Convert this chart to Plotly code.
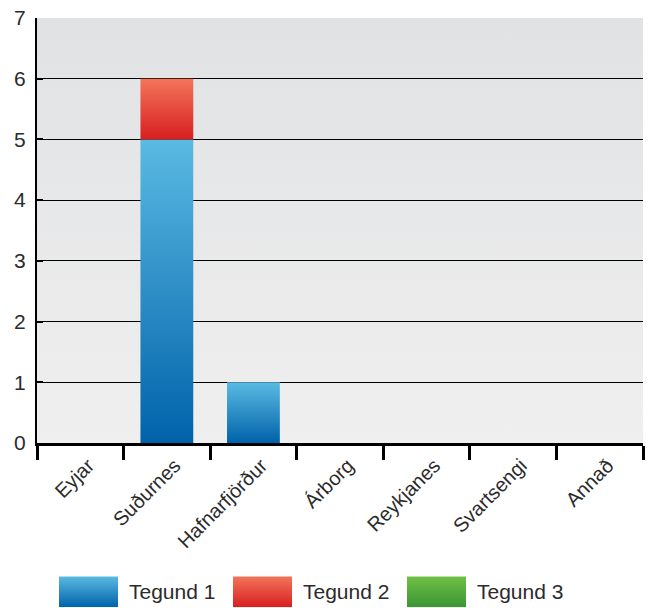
import base64
import plotly.graph_objects as go

categories = ["Eyjar", "Suðurnes", "Hafnarfjörður", "Árborg", "Reykjanes", "Svartsengi", "Annað"]
series_names = ["Tegund 1", "Tegund 2", "Tegund 3"]
tegund1 = [0, 5, 1, 0, 0, 0, 0]
tegund2 = [0, 1, 0, 0, 0, 0, 0]
tegund3 = [0, 0, 0, 0, 0, 0, 0]
y_ticks = [0, 1, 2, 3, 4, 5, 6, 7]

series_values = [tegund1, tegund2, tegund3]
# (top colour, bottom colour) per series
series_colors = [("#5bbae2", "#0062aa"), ("#f3755a", "#d71f1f"), ("#71c046", "#3a9535")]

FONT = "Liberation Sans, Arial, sans-serif"
TXT = "#2b2b2b"
BAR_W = 0.61


def grad_uri(top, bottom):
    svg = (
        '<svg xmlns="http://www.w3.org/2000/svg" width="10" height="100" preserveAspectRatio="none">'
        '<defs><linearGradient id="g" x1="0" y1="0" x2="0" y2="1">'
        f'<stop offset="0" stop-color="{top}"/><stop offset="1" stop-color="{bottom}"/>'
        '</linearGradient></defs><rect width="10" height="100" fill="url(#g)"/></svg>'
    )
    return "data:image/svg+xml;base64," + base64.b64encode(svg.encode()).decode()


fig = go.Figure()

base = [0] * len(categories)
for name, vals, (ctop, cbot) in zip(series_names, series_values, series_colors):
    for i, v in enumerate(vals):
        if v > 0:
            x0, x1 = i - BAR_W / 2, i + BAR_W / 2
            y0, y1 = base[i], base[i] + v
            fig.add_trace(go.Scatter(
                x=[x0, x1, x1, x0, x0], y=[y0, y0, y1, y1, y0],
                mode="lines", line=dict(width=0), fill="toself",
                fillgradient=dict(type="vertical", colorscale=[[0, cbot], [1, ctop]]),
                name=name, showlegend=False, hoverinfo="name+text",
                text=f"{categories[i]}: {v}",
            ))
    base = [b + v for b, v in zip(base, vals)]

fig.update_layout(
    width=649, height=608,
    margin=dict(l=37, r=6, t=16, b=165),
    paper_bgcolor="white", plot_bgcolor="#e8e9ea",
    showlegend=False,
    font=dict(family=FONT, color=TXT),
    xaxis=dict(
        range=[-0.5, len(categories) - 0.5], tickmode="array",
        tickvals=list(range(len(categories))), ticktext=categories,
        ticks="", tickangle=-45, tickfont=dict(size=20, color=TXT),
        ticklabelshift=8,
        showgrid=False, zeroline=False,
        showline=True, linecolor="black", linewidth=3,
        minor=dict(tickvals=[i - 0.5 for i in range(len(categories) + 1)],
                   ticks="outside", ticklen=14, tickwidth=3, tickcolor="black", showgrid=False),
        fixedrange=True,
    ),
    yaxis=dict(
        range=[0, 7], tickmode="array", tickvals=y_ticks,
        ticks="inside", ticklen=6, tickwidth=2, tickcolor="black",
        tickfont=dict(size=21, color=TXT), ticklabelstandoff=5,
        showgrid=True, gridcolor="black", gridwidth=1,
        zeroline=False, showline=True, linecolor="black", linewidth=2,
        fixedrange=True,
    ),
)

# plot background gradient
fig.add_layout_image(dict(
    source=grad_uri("#e1e2e4", "#efefef"), xref="x domain", yref="y domain",
    x=0, y=1, sizex=1, sizey=1, xanchor="left", yanchor="top",
    sizing="stretch", layer="below",
))

# legend: gradient swatches and labels
pw, ph = 649 - 37 - 6, 608 - 16 - 165
for k, (name, (ctop, cbot)) in enumerate(zip(series_names, series_colors)):
    sx = 59 + k * 174
    fig.add_layout_image(dict(
        source=grad_uri(ctop, cbot), xref="paper", yref="paper",
        x=(sx - 37) / pw, y=(443 - 577) / ph, sizex=59 / pw, sizey=31 / ph,
        xanchor="left", yanchor="top", sizing="stretch", layer="above",
    ))
    fig.add_annotation(
        text=name, xref="paper", yref="paper", x=(sx + 68 - 37) / pw, y=(443 - 592) / ph,
        xanchor="left", yanchor="middle", showarrow=False,
        font=dict(size=21, color=TXT, family=FONT),
    )

fig.write_html("out.html")
